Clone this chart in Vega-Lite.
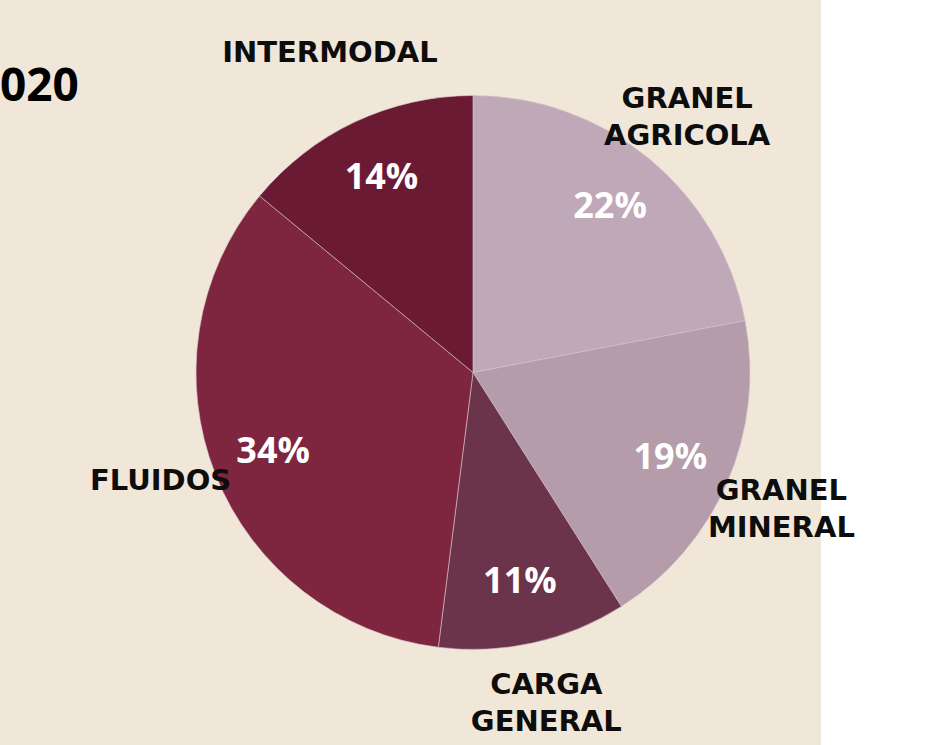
{
  "$schema": "https://vega.github.io/schema/vega-lite/v6.json",
  "background": "white",
  "padding": 0,
  "spacing": 0,
  "bounds": "flush",
  "config": {"view": {"stroke": null}, "concat": {"spacing": 0}},
  "hconcat": [
    {
      "width": 125,
      "height": 745,
      "view": {"fill": "#f1e7d9", "stroke": null},
      "title": {"text": "020", "anchor": "start", "frame": "group", "offset": -147, "baseline": "alphabetic", "font": "Open Sans", "fontWeight": "bold", "fontSize": 46, "color": "#000000"},
      "data": {"values": []},
      "mark": "point"
    },
    {
      "width": 696,
      "height": 745,
      "view": {"fill": "#f1e7d9", "stroke": null},
      "data": {
        "values": [
          {"idx": 1, "cat": "GRANEL\nAGRICOLA", "pct": 22, "pctText": "22%"},
          {"idx": 2, "cat": "GRANEL\nMINERAL", "pct": 19, "pctText": "19%"},
          {"idx": 3, "cat": "CARGA\nGENERAL", "pct": 11, "pctText": "11%"},
          {"idx": 4, "cat": "FLUIDOS", "pct": 34, "pctText": "34%"},
          {"idx": 5, "cat": "INTERMODAL", "pct": 14, "pctText": "14%"}
        ]
      },
      "encoding": {
        "theta": {"field": "pct", "type": "quantitative", "stack": true},
        "order": {"field": "idx", "type": "quantitative"}
      },
      "layer": [
        {
          "mark": {"type": "arc", "outerRadius": 277, "stroke": "#d9c4cd", "strokeWidth": 0.6},
          "encoding": {
            "color": {
              "field": "cat",
              "type": "nominal",
              "scale": {
                "domain": ["GRANEL\nAGRICOLA", "GRANEL\nMINERAL", "CARGA\nGENERAL", "FLUIDOS", "INTERMODAL"],
                "range": ["#bfa8b7", "#b49cab", "#6b344b", "#7e2540", "#6a1a32"]
              },
              "legend": null
            }
          }
        },
        {
          "mark": {"type": "text", "radius": 215, "font": "Open Sans", "fontWeight": "bold", "fontSize": 36, "fill": "#ffffff", "baseline": "middle"},
          "encoding": {"text": {"field": "pctText", "type": "nominal"}}
        },
        {
          "mark": {"type": "text", "radius": 336, "font": "DejaVu Sans", "fontWeight": "bold", "fontSize": 29, "lineBreak": "\n", "lineHeight": 37, "baseline": "bottom", "fill": "#0d0d0d"},
          "encoding": {"text": {"field": "cat", "type": "nominal"}}
        }
      ]
    },
    {
      "width": 120,
      "height": 745,
      "data": {"values": []},
      "mark": "point"
    }
  ]
}
